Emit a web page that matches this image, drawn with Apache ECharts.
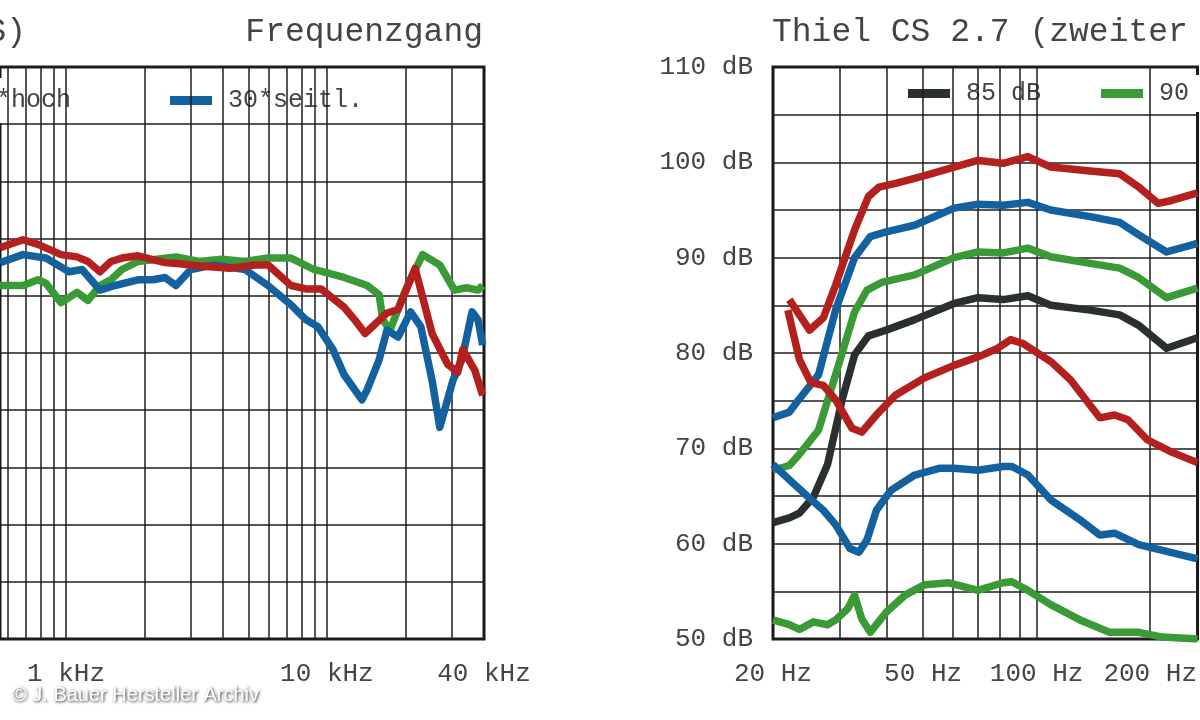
<!DOCTYPE html>
<html><head><meta charset="utf-8">
<script src="https://cdn.jsdelivr.net/npm/echarts@6/dist/echarts.min.js"></script>
<style>html,body{margin:0;padding:0;background:#fff}#c{width:1200px;height:720px}</style>
</head><body><div id="c"></div>
<script>
// ---- Left panel: Frequenzgang ----
const leftGridFreqs = [600,700,800,900,1000,2000,3000,4000,5000,6000,7000,8000,9000,10000,20000,30000];
const leftTickValues = [1000,10000,40000];
const leftTickLabels = ['1 kHz','10 kHz','40 kHz'];
const leftFreqMin = 558.6, leftFreqMax = 40000;

const redL_f = [558.6,684,781,957,1102,1214,1349,1487,1638,1887,2395,2733,3260,4250,5300,5945,7284,8319,9500,11640,12780,14000,16990,18740,21780,25300,29050,31720,33180,36860,39540];
const redL_v = [84.2,84.9,84.5,83.6,83.4,83.0,82.1,83.0,83.3,83.5,82.9,82.8,82.6,82.4,82.7,82.7,80.9,80.6,80.6,79.0,77.9,76.7,78.5,78.8,82.4,76.7,74.0,73.3,75.3,73.5,71.3];
const blueL_f = [558.6,684,838,1027,1152,1349,1541,1887,2155,2395,2639,3010,3692,4852,5945,7284,8319,9241,10550,11640,13620,14270,15850,16990,18740,20940,22910,25300,27080,30400,32900,36000,37950,39540];
const blueL_v = [82.9,83.6,83.3,82.1,82.3,80.5,80.9,81.4,81.4,81.6,80.9,82.3,82.7,82.3,80.9,79.2,77.9,77.3,75.3,73.1,70.9,71.8,74.4,77.0,76.4,78.6,77.3,72.6,68.5,72.6,74.4,78.6,77.9,75.7];
const greenL_f = [558.6,684,781,838,957,1102,1214,1349,1487,1638,1887,2639,3231,3960,4852,5945,7284,8922,11640,14270,15850,16380,17450,20000,23270,27080,30800,34290,37950,39540];
const greenL_v = [80.9,80.9,81.4,81.1,79.4,80.3,79.6,80.9,81.4,82.3,83.0,83.4,83.0,83.2,83.0,83.3,83.3,82.3,81.6,80.9,80.1,77.9,77.0,80.5,83.6,82.7,80.5,80.7,80.5,80.9];

// ---- Right panel: Thiel CS 2.7 (zweiter Klirr) ----
const rightGridFreqs = [30,40,50,60,70,80,90,100,200];
const rightTickValues = [20,50,100,200];
const rightTickLabels = ['20 Hz','50 Hz','100 Hz','200 Hz'];
const rightFreqMin = 20, rightFreqMax = 267;

const red100_f = [22.1,25.0,27.2,29.3,32.9,35.8,38.2,42.3,50.5,60.4,69.9,81.5,94.8,109,138.7,166,186.6,210,228,267];
const red100_v = [85.6,82.4,83.7,87.1,92.9,96.4,97.4,97.8,98.6,99.5,100.2,99.9,100.6,99.5,99.1,98.8,97.4,95.7,96.0,96.8];
const blue95_f = [20,22.1,23.4,26.4,29.3,32.9,36.2,39.9,47.5,60.4,69.9,81.5,94.8,109,138.7,166,186.6,221,267];
const blue95_v = [73.2,73.8,75.1,77.7,84.5,90.0,92.2,92.7,93.4,95.2,95.6,95.5,95.8,95.0,94.3,93.7,92.4,90.6,91.5];
const green90_f = [20,22.1,23.4,26.4,29.3,32.9,35.5,38.8,47.5,60.4,69.9,81.5,94.8,109,138.7,166,186.6,221,267];
const green90_v = [67.7,68.2,69.3,71.9,77.7,84.3,86.6,87.4,88.2,90.0,90.6,90.5,91.0,90.1,89.4,88.9,87.9,85.8,86.8];
const black85_f = [20,22.1,23.5,25.6,27.9,30.5,32.9,35.8,39.9,47.5,60.4,69.9,81.5,94.8,109,138.7,166,186.6,221,267];
const black85_v = [62.2,62.7,63.2,64.9,68.3,75.1,79.8,81.8,82.4,83.5,85.2,85.8,85.6,86.0,85.0,84.5,84.0,82.9,80.5,81.6];
const redK_f = [21.9,23.5,25.2,27.2,29.3,32.4,34.4,37.6,42.3,50.5,60.4,72.0,78.9,85.3,91.9,109,122.9,147,160.9,174.6,196.5,228,267];
const redK_v = [84.5,79.3,76.9,76.6,75.1,72.1,71.7,73.5,75.6,77.4,78.7,79.8,80.5,81.4,81.0,79.1,77.2,73.2,73.5,73.0,70.9,69.6,68.5];
const blueK_f = [20,22.1,24.8,27.2,29.3,32.0,33.8,35.5,37.6,41.1,47.5,55.2,60.4,69.9,81.5,86.0,94.8,109,130.3,147,160.9,186.6,215.6,267];
const blueK_v = [68.3,66.7,64.9,63.5,62.0,59.5,59.1,60.4,63.5,65.6,67.2,67.9,67.9,67.7,68.1,68.1,67.2,64.6,62.5,60.9,61.1,59.9,59.3,58.4];
const greenK_f = [20,22.1,23.5,25.6,27.9,29.3,31.6,32.9,34.4,36.2,39.9,44.8,50.5,58.5,69.9,81.5,86.0,94.8,109,130.3,155.9,186.6,215.6,267];
const greenK_v = [52.0,51.5,51.0,51.8,51.5,52.0,53.2,54.6,52.1,50.7,52.8,54.6,55.7,55.9,55.1,55.9,56.0,55.1,53.6,52.0,50.7,50.7,50.2,50.0];

const C = {red:'#b3201e', blue:'#14619f', green:'#3a9a35', black:'#2a2f2f'};
const MONO = '"Liberation Mono","DejaVu Sans Mono",monospace';
const pair = (f,v) => f.map((x,i)=>[x,v[i]]);

function line(name, f, v, color, gi, extra) {
  return Object.assign({type:'line', name, data: pair(f,v), xAxisIndex: gi, yAxisIndex: gi,
    showSymbol:false, symbol:'none', lineStyle:{color, width:7.5, join:'round'}, itemStyle:{color}, z:5, animation:false, silent:true}, extra||{});
}
function vlines(freqs){
  return {silent:true, symbol:'none', animation:false, label:{show:false},
    lineStyle:{color:'#1e1e1e', width:1.5, type:'solid'},
    data: freqs.map(f=>({xAxis:f}))};
}
function xAxis(gi,min,max,vals,labels){
  return {type:'log', logBase:10, gridIndex:gi, min, max,
    axisLine:{show:false}, axisTick:{show:false}, splitLine:{show:false}, minorSplitLine:{show:false},
    axisLabel:{show:true, customValues: vals, margin:22, color:'#444', fontFamily:MONO, fontSize:26,
      formatter: v => { const i = vals.findIndex(x=>Math.abs(x-v)/x<1e-6); return i>=0?labels[i]:''; }}};
}
function yAxis(gi,min,max,show){
  return {type:'value', gridIndex:gi, min, max, interval:5,
    axisLine:{show:false}, axisTick:{show:false},
    splitLine:{show:true, lineStyle:{color:'#1e1e1e', width:1.5}},
    axisLabel:{show, margin:20, color:'#444', fontFamily:MONO, fontSize:26,
      formatter: v => v%10===0 ? v+' dB' : ''}};
}
function legend(names,left,top,pad,lh){
  return {data:names, left, top, orient:'horizontal', backgroundColor:'#fff', padding:pad,
    itemWidth:42, itemHeight:9, itemGap:10, icon:'rect', selectedMode:false,
    textStyle:{color:'#444', fontFamily:MONO, fontSize:25, lineHeight:lh, padding:[0,0,0,11]}};
}

const chart = echarts.init(document.getElementById('c'));
chart.setOption({
  backgroundColor:'#fff', animation:false,
  grid:[
    {left:0, top:67, width:484, height:572, show:true, borderColor:'#1a1a1a', borderWidth:3, backgroundColor:'#fff'},
    {left:773, top:67, width:440, height:572, show:true, borderColor:'#1a1a1a', borderWidth:3, backgroundColor:'#fff'}
  ],
  xAxis:[xAxis(0,leftFreqMin,leftFreqMax,leftTickValues,leftTickLabels), xAxis(1,rightFreqMin,rightFreqMax,rightTickValues,rightTickLabels)],
  yAxis:[yAxis(0,50,100,false), yAxis(1,50,110,true)],
  legend:[
    legend(['30*hoch'],-107,78,[10,15,10,15],22),
    legend(['30*seitl.'],155,78,[10,15,10,15],22),
    legend(['85 dB'],895,75,[6,4,6,13],22),
    legend(['90 dB'],1088,75,[6,40,6,13],22)
  ],
  series:[
    line('30*hoch', greenL_f, greenL_v, C.green, 0, {markLine: vlines(leftGridFreqs)}),
    line('30*seitl.', blueL_f, blueL_v, C.blue, 0),
    line('0*', redL_f, redL_v, C.red, 0),
    line('85 dB', black85_f, black85_v, C.black, 1, {markLine: vlines(rightGridFreqs)}),
    line('90 dB', green90_f, green90_v, C.green, 1),
    line('95 dB', blue95_f, blue95_v, C.blue, 1),
    line('100 dB', red100_f, red100_v, C.red, 1),
    line('K2 100 dB', redK_f, redK_v, C.red, 1),
    line('K2 95 dB', blueK_f, blueK_v, C.blue, 1),
    line('K2 90 dB', greenK_f, greenK_v, C.green, 1)
  ],
  graphic:[
    {type:'text', x:26, y:16, style:{text:'(RMS)', font:'33px '+MONO, fill:'#444', textAlign:'right'}},
    {type:'text', x:483, y:16, style:{text:'Frequenzgang', font:'33px '+MONO, fill:'#444', textAlign:'right'}},
    {type:'text', x:772, y:16, style:{text:'Thiel CS 2.7 (zweiter Klirr)', font:'33px '+MONO, fill:'#444'}},
    {type:'text', x:12, y:685, style:{text:'© J. Bauer Hersteller Archiv', font:'20px "Liberation Sans",Arial,sans-serif', fill:'#fff',
      textShadowColor:'rgba(0,0,0,0.85)', textShadowBlur:3, textShadowOffsetX:1, textShadowOffsetY:1}}
  ]
});
</script></body></html>
